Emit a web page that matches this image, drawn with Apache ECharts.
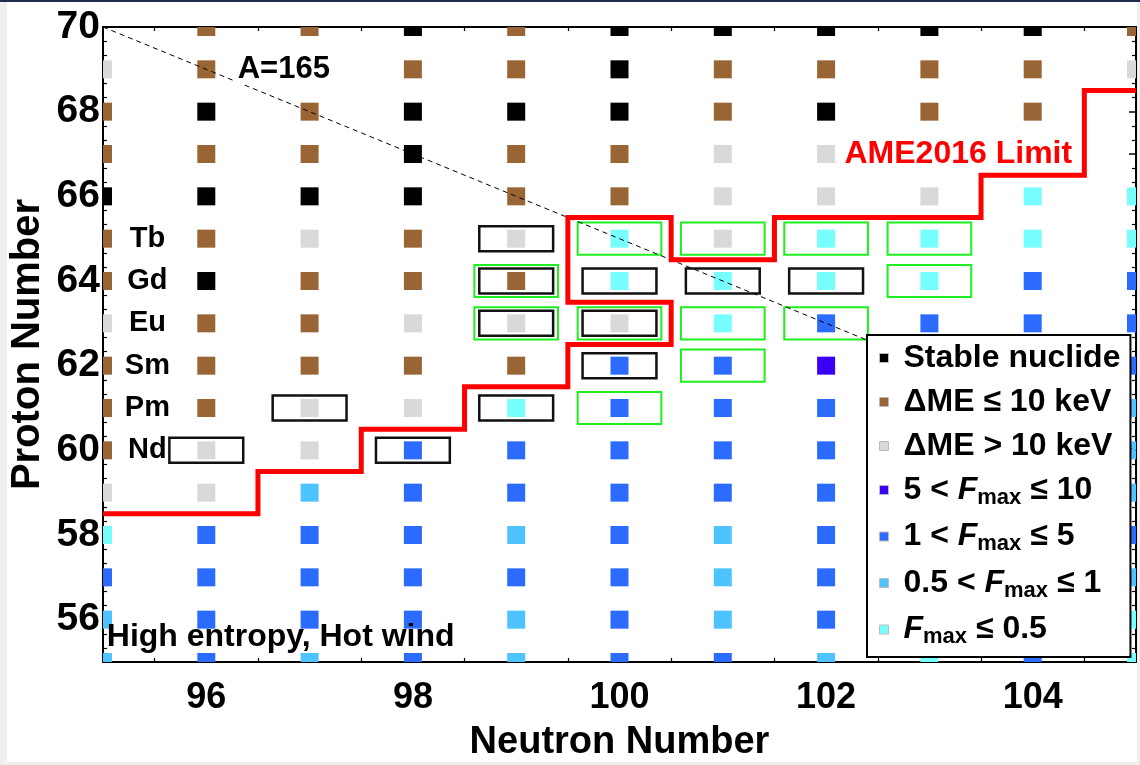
<!DOCTYPE html>
<html>
<head>
<meta charset="utf-8">
<script src="https://cdn.jsdelivr.net/npm/echarts@6/dist/echarts.min.js"></script>
<style>
  html, body { margin: 0; padding: 0; background: #fff; }
  #chart { width: 1140px; height: 765px; }
</style>
</head>
<body>
<div id="chart"></div>
<script>
// Neutron (x) and proton (y) numbers covered by the chart of nuclides
const neutronNumbers = [95, 96, 97, 98, 99, 100, 101, 102, 103, 104, 105];
const protonNumbers = [70, 69, 68, 67, 66, 65, 64, 63, 62, 61, 60, 59, 58, 57, 56, 55];

// One class code per nucleus, rows follow protonNumbers, columns follow neutronNumbers
// S stable, B dME<=10 keV, G dME>10 keV, I 5<F<=10, D 1<F<=5, L 0.5<F<=1, C F<=0.5, . none
const cellClass = [
  '.BBSBSSSSSB',
  'GBBBBSBBBBG',
  'BSBSSSBSBB.',
  'BBBSBBGGGG.',
  'SSSSBBGGGCC',
  'BBGBGCGCCCC',
  'BSBBBCCCCDD',
  'GBBGGGCDDDD',
  'BBBBBDDI..D',
  'BBGGCDDD..L',
  'BGGDDDDD..L',
  'GGLDDDDD..L',
  'CDDDLDLD..D',
  'DDDDDDLD..L',
  'LDDDLDLD..C',
  'LDLDLDDLCDC'
];

const classCodes = ['S', 'B', 'G', 'I', 'D', 'L', 'C'];
const classNames = ['Stable nuclide', 'ΔME ≤ 10 keV', 'ΔME > 10 keV',
  '5 < Fmax ≤ 10', '1 < Fmax ≤ 5', '0.5 < Fmax ≤ 1', 'Fmax ≤ 0.5'];
const classColors = ['#000000', '#9a6535', '#d9d9d9', '#3a00f5', '#2b6bff', '#4dc3ff', '#77ffff'];

// Nuclei framed by a black box and by a green box, as [N, Z]
const blackBoxes = [[99, 65], [99, 64], [99, 63], [100, 64], [100, 63], [101, 64],
  [102, 64], [100, 62], [97, 61], [99, 61], [96, 60], [98, 60]];
const greenBoxes = [[100, 65], [101, 65], [102, 65], [103, 65], [99, 64], [103, 64],
  [99, 63], [100, 63], [101, 63], [102, 63], [101, 62], [100, 61]];

// AME2016 known-mass boundary, as [N, Z] vertices
const ameLimit = [[95, 58.5], [96.5, 58.5], [96.5, 59.5], [97.5, 59.5], [97.5, 60.5],
  [98.5, 60.5], [98.5, 61.5], [99.5, 61.5], [99.5, 62.5], [100.5, 62.5], [100.5, 63.5],
  [99.5, 63.5], [99.5, 65.5], [100.5, 65.5], [100.5, 64.5], [101.5, 64.5], [101.5, 65.5],
  [103.5, 65.5], [103.5, 66.5], [104.5, 66.5], [104.5, 68.5], [105, 68.5]];

// Isobar A = 165 end points
const isobarLine = [[95, 70], [105, 60]];

// Element symbols for Z = 65 ... 60
const elementLabels = [['Tb', 65], ['Gd', 64], ['Eu', 63], ['Sm', 62], ['Pm', 61], ['Nd', 60]];

const FONT = '"Liberation Sans", Arial, Helvetica, sans-serif';
const CELL = 18; // square size in pixels

// Build one point list per class
const classPoints = classCodes.map(() => []);
protonNumbers.forEach((z, r) => {
  neutronNumbers.forEach((n, c) => {
    const k = classCodes.indexOf(cellClass[r][c]);
    if (k >= 0) classPoints[k].push([n, z]);
  });
});

const legendRich = {
  'Stable nuclide': '{t|Stable nuclide}',
  'ΔME ≤ 10 keV': '{t|ΔME ≤ 10 keV}',
  'ΔME > 10 keV': '{t|ΔME > 10 keV}',
  '5 < Fmax ≤ 10': '{t|5 < }{i|F}{s|max}{t| ≤ 10}',
  '1 < Fmax ≤ 5': '{t|1 < }{i|F}{s|max}{t| ≤ 5}',
  '0.5 < Fmax ≤ 1': '{t|0.5 < }{i|F}{s|max}{t| ≤ 1}',
  'Fmax ≤ 0.5': '{i|F}{s|max}{t| ≤ 0.5}'
};

function boxSeries(points, wN, hZ, color, width) {
  return {
    type: 'custom',
    data: points,
    z: 4,
    clip: true,
    silent: true,
    renderItem: function (params, api) {
      const c = api.coord([api.value(0), api.value(1)]);
      const s = api.size([wN, hZ]);
      return {
        type: 'rect',
        shape: { x: c[0] - s[0] / 2, y: c[1] - s[1] / 2, width: s[0], height: s[1] },
        style: { fill: null, stroke: color, lineWidth: width }
      };
    }
  };
}

function makeAxis(pos, min, max, minorSplit, showLabel, labelSize, margin) {
  return {
    type: 'value', position: pos, min: min, max: max, interval: 1,
    axisLine: { show: true, onZero: false, lineStyle: { color: '#000', width: 2 } },
    axisTick: { show: true, inside: true, length: 7, lineStyle: { color: '#000', width: 1.5 } },
    minorTick: { show: true, splitNumber: minorSplit, length: 4, lineStyle: { color: '#000', width: 1.2 } },
    splitLine: { show: false },
    minorSplitLine: { show: false },
    axisLabel: {
      show: showLabel,
      formatter: v => (v % 2 === 0 ? String(v) : ''),
      fontFamily: FONT, fontWeight: 'bold', fontSize: labelSize, color: '#000',
      margin: margin
    }
  };
}

const chart = echarts.init(document.getElementById('chart'), null, { renderer: 'canvas' });

const xBottom = makeAxis('bottom', 95, 105, 2, true, 36, 18);
xBottom.name = 'Neutron Number';
xBottom.nameLocation = 'middle';
xBottom.nameGap = 62;
xBottom.nameMoveOverlap = false;
xBottom.nameTextStyle = { fontFamily: FONT, fontWeight: 'bold', fontSize: 38, color: '#000' };
const xTop = makeAxis('top', 95, 105, 2, false, 36, 8);

const yLeft = makeAxis('left', 55, 70, 3, true, 39, 3);
yLeft.name = 'Proton Number';
yLeft.nameLocation = 'middle';
yLeft.nameGap = 55;
yLeft.nameRotate = 90;
yLeft.nameMoveOverlap = false;
yLeft.nameTextStyle = { fontFamily: FONT, fontWeight: 'bold', fontSize: 40, color: '#000' };
const yRight = makeAxis('right', 55, 70, 3, false, 36, 8);

// Nuclide squares, drawn as clipped rectangles centred on (N, Z)
const series = classNames.map((name, k) => ({
  name: name,
  type: 'custom',
  clip: true,
  z: 2,
  silent: true,
  itemStyle: { color: classColors[k], opacity: 1 },
  data: classPoints[k],
  renderItem: function (params, api) {
    const c = api.coord([api.value(0), api.value(1)]);
    return {
      type: 'rect',
      shape: { x: c[0] - CELL / 2, y: c[1] - CELL / 2, width: CELL, height: CELL },
      style: { fill: classColors[k] }
    };
  }
}));

series.push(boxSeries(greenBoxes, 0.81, 0.76, '#1fee1f', 2));
series.push(boxSeries(blackBoxes, 0.715, 0.59, '#111', 2.5));

series.push({
  type: 'line', data: isobarLine, symbol: 'none', z: 5, clip: true,
  lineStyle: { color: '#000', width: 1, type: [5, 4] }, silent: true
});

series.push({
  type: 'line', data: ameLimit, symbol: 'none', z: 6, clip: true,
  lineStyle: { color: '#ff0000', width: 5, join: 'miter', cap: 'butt' }, silent: true
});

// Text annotations placed in data coordinates
const labelBase = { fontFamily: FONT, fontWeight: 'bold', color: '#000', opacity: 1 };
series.push({
  type: 'scatter', symbolSize: 1, z: 7, clip: false, silent: true,
  itemStyle: { color: 'rgba(0,0,0,0)', opacity: 1 },
  label: { show: true, position: 'inside', formatter: p => p.name, fontSize: 29, ...labelBase },
  data: elementLabels.map(([s, z]) => ({ name: s, value: [95.43, z] })).concat([
    { name: 'A=165', value: [96.75, 69.0],
      label: { fontSize: 31, backgroundColor: '#fff', padding: [0, 2] } },
    { name: 'AME2016 Limit', value: [103.28, 67.0],
      label: { fontSize: 32, color: '#ff0000', backgroundColor: '#fff', padding: [1, 3] } },
    { name: 'High entropy, Hot wind', value: [96.72, 55.58],
      label: { fontSize: 32 } }
  ])
});

chart.setOption({
  animation: false,
  backgroundColor: '#fff',
  grid: { left: 103, right: 4, top: 27, bottom: 103, containLabel: false, outerBoundsMode: 'none' },
  xAxis: [xBottom, xTop],
  yAxis: [yLeft, yRight],
  legend: {
    data: classNames,
    orient: 'vertical',
    left: 867, top: 335,
    backgroundColor: '#fff',
    borderColor: '#000', borderWidth: 2, borderRadius: 0,
    padding: [7, 10, 9, 12],
    itemGap: 12,
    itemWidth: 9, itemHeight: 9,
    icon: 'rect',
    itemStyle: { borderColor: '#bbb', borderWidth: 1 },
    selectedMode: false,
    formatter: name => legendRich[name],
    textStyle: {
      padding: [0, 0, 0, 10],
      rich: {
        t: { fontFamily: FONT, fontWeight: 'bold', fontSize: 32, color: '#000', lineHeight: 34 },
        i: { fontFamily: FONT, fontWeight: 'bold', fontStyle: 'italic', fontSize: 32, color: '#000', lineHeight: 34 },
        s: { fontFamily: FONT, fontWeight: 'bold', fontSize: 22, color: '#000', padding: [15, 0, 0, 0] }
      }
    },
    z: 10
  },
  graphic: [
    { type: 'rect', shape: { x: 0, y: 0, width: 7, height: 765 }, style: { fill: '#efefef' }, z: 100 },
    { type: 'rect', shape: { x: 1137, y: 0, width: 3, height: 765 }, style: { fill: '#efefef' }, z: 100 },
    { type: 'rect', shape: { x: 0, y: 762, width: 1140, height: 3 }, style: { fill: '#efefef' }, z: 100 },
    { type: 'rect', shape: { x: 0, y: 0, width: 1140, height: 2 }, style: { fill: '#1c2c4c' }, z: 100 }
  ],
  series: series
});
</script>
</body>
</html>
